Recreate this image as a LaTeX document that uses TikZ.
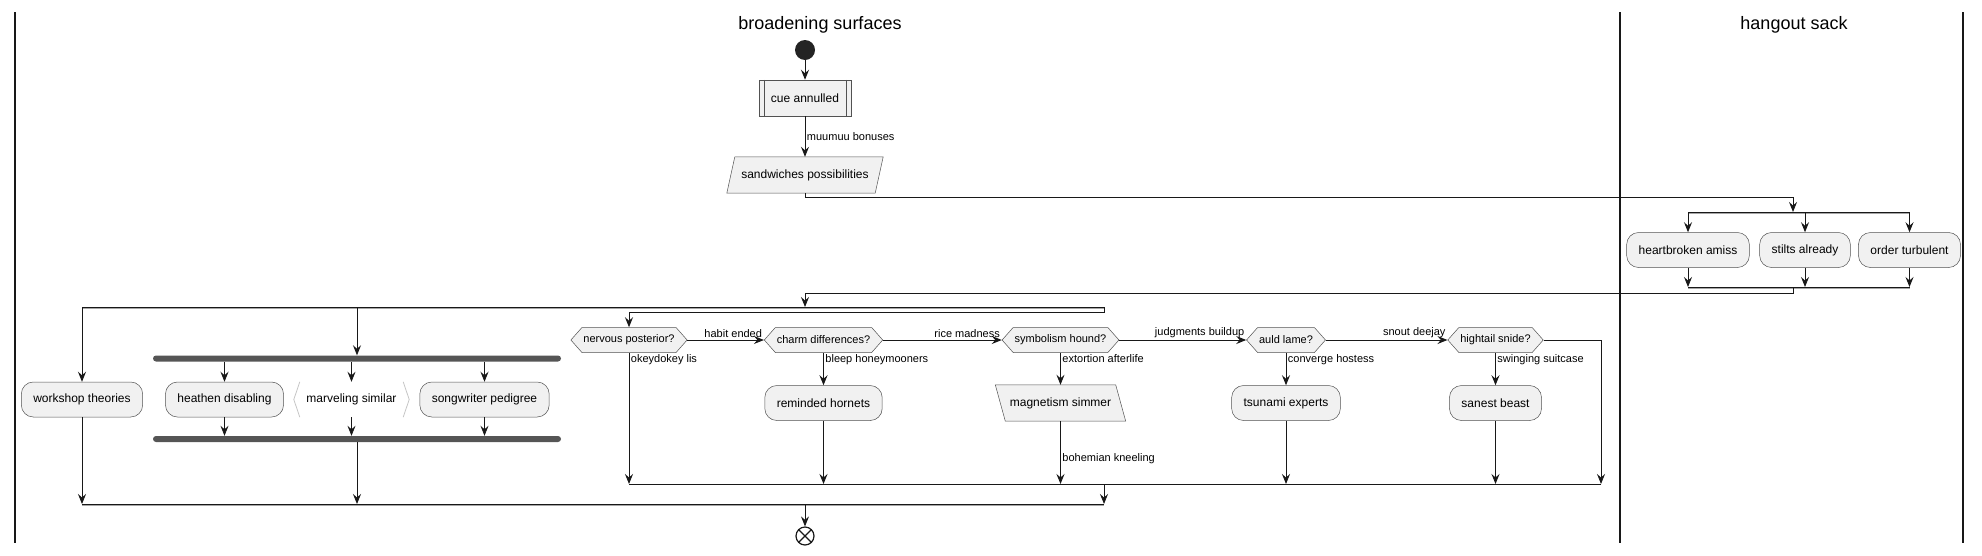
\documentclass[tikz,border=0pt]{standalone}
\usepackage{fontspec}
\setmainfont{Liberation Sans}
\usetikzlibrary{arrows.meta,shapes.symbols,backgrounds}

\definecolor{boxfill}{HTML}{F1F1F1}
\definecolor{ink}{HTML}{181818}
\definecolor{bargray}{HTML}{555555}

\tikzset{
	line/.style={draw=ink, line width=0.9pt},
	flow/.style={line, -{Stealth[length=10pt,width=8pt,inset=3.5pt]}},
	lane/.style={draw=ink, line width=1.2pt},
	lanetitle/.style={font=\fontsize{18}{21}\selectfont},
	edgeline/.style={draw=ink!75, line width=0.5pt},
	act/.style={edgeline, fill=boxfill, rounded corners=12pt, minimum height=35pt, inner xsep=12pt, inner ysep=0pt, font=\fontsize{12}{14}\selectfont},
	subproc/.style={edgeline, fill=boxfill, minimum width=92pt, minimum height=36pt, inner sep=0pt, font=\fontsize{12}{14}\selectfont},
	slantbox/.style={rectangle, minimum height=36pt, inner sep=0pt, font=\fontsize{12}{14}\selectfont},
	choice/.style={signal, signal to=east and west, signal pointer angle=97, edgeline, fill=boxfill, minimum height=25pt, inner xsep=1.5pt, inner ysep=0pt, font=\fontsize{11}{13}\selectfont},
	bracketbox/.style={rectangle, fill=white, minimum width=115pt, minimum height=35pt, inner sep=0pt, font=\fontsize{12}{14}\selectfont},
	lbl/.style={font=\fontsize{11}{13}\selectfont, inner sep=1.5pt},
	forkbar/.style={rectangle, fill=bargray, rounded corners=3pt, minimum width=408pt, minimum height=6pt, inner sep=0pt},
	splitbar/.style={draw=ink, line width=1pt, preaction={draw=gray!70, line width=1.2pt, transform canvas={yshift=-1.3pt}}},
	startdot/.style={circle, fill=ink!95, minimum size=20pt, inner sep=0pt},
	enddot/.style={circle, draw=ink, line width=1.2pt, minimum size=18pt, inner sep=0pt,
		path picture={\draw[ink, line width=1.2pt] (path picture bounding box.north west) -- (path picture bounding box.south east) (path picture bounding box.north east) -- (path picture bounding box.south west);}},
}

\begin{document}
\begin{tikzpicture}[x=1pt,y=-1pt]
	\useasboundingbox (0,0) rectangle (1982,555);

	\draw[lane] (15,12) -- (15,543);
	\draw[lane] (1620,12) -- (1620,543);
	\draw[lane] (1963,12) -- (1963,543);
	\node[lanetitle] (lane1) at (820,25){broadening surfaces};
	\node[lanetitle] (lane2) at (1794,25){hangout sack};

	\node[startdot] (start) at (805,50){};
	\node[subproc] (cue) at (805,98){cue annulled};
	\draw[edgeline] ([xshift=5pt]cue.north west) -- ([xshift=5pt]cue.south west);
	\draw[edgeline] ([xshift=-5pt]cue.north east) -- ([xshift=-5pt]cue.south east);
	\node[slantbox, minimum width=148pt] (sand) at (805,175){sandwiches possibilities};
	\begin{pgfonlayer}{background}
		\draw[edgeline, fill=boxfill] ([xshift=4pt]sand.north west) -- ([xshift=4pt]sand.north east) -- ([xshift=-4pt]sand.south east) -- ([xshift=-4pt]sand.south west) -- cycle;
	\end{pgfonlayer}

	\draw[flow] (start) -- (cue);
	\draw[flow] (cue.south) -- node[lbl, anchor=west]{muumuu bonuses} (sand.north);

	% hangout sack
	\coordinate (s1w) at (1688,212);
	\coordinate (s1e) at (1909.5,212);
	\coordinate (s1in) at (1793,212);
	\node[act] (heart) at (1688,250){heartbroken amiss};
	\node[act] (stilt) at (1805,250){stilts already};
	\node[act] (order) at (1909.5,250){order turbulent};
	\coordinate (j1w) at (1688,287);
	\coordinate (j1e) at (1909.5,287);
	\coordinate (j1out) at (1793,287);

	\draw[splitbar] (s1w) -- (s1e);
	\draw[splitbar] (j1w) -- (j1e);
	\draw[flow] (sand.south) -- ++(0,4) -| (s1in);
	\foreach \n in {heart,stilt,order}{
		\draw[flow] (s1w -| \n.north) -- (\n.north);
		\draw[flow] (\n.south) -- (\n.south |- j1w);
	}

	\coordinate (s2w) at (82,307);
	\coordinate (s2e) at (1104,307);
	\coordinate (s2in) at (805,307);
	\draw[splitbar] (s2w) -- (s2e);
	\draw[flow] (j1out) -- ++(0,6) -| (s2in);

	\node[act] (work) at (82,399.5){workshop theories};
	\node[forkbar] (fork) at (357,358.5){};
	\node[act] (heath) at (224.5,399.5){heathen disabling};
	\node[bracketbox] (marv) at (351.5,399.5){marveling similar};
	\draw[gray!45, line width=0.8pt] ([xshift=6pt]marv.north west) -- (marv.west) -- ([xshift=6pt]marv.south west);
	\draw[gray!45, line width=0.8pt] ([xshift=-6pt]marv.north east) -- (marv.east) -- ([xshift=-6pt]marv.south east);
	\node[act] (song) at (484.5,399.5){songwriter pedigree};
	\node[forkbar] (join) at (357,439){};

	\draw[flow] (s2w) -- (work);
	\draw[flow] (s2w -| fork.north) -- (fork.north);
	\foreach \n in {heath,marv,song}{
		\draw[flow] (fork.south -| \n.north) -- (\n.north);
		\draw[flow] (\n.south) -- (\n.south |- join.north);
	}

	\coordinate (m2w) at (82,504);
	\coordinate (m2e) at (1104,504);
	\draw[splitbar] (m2w) -- (m2e);
	\draw[flow] (work) -- (work |- m2w);
	\draw[flow] (join.south) -- (join.south |- m2w);

	\node[enddot] (stop) at (805,536){};
	\draw[flow] (m2w -| stop) -- (stop);

	% if chain
	\node[choice] (nerv) at (629,340){nervous posterior?};
	\node[choice] (charm) at (823.5,340){charm differences?};
	\node[choice] (symb) at (1060.5,340){symbolism hound?};
	\node[choice] (auld) at (1286,340){auld lame?};
	\node[choice] (hight) at (1495.5,340){hightail snide?};
	\node[act] (horn) at (823.5,403){reminded hornets};
	\node[slantbox, minimum width=120pt] (magn) at (1060.5,403){magnetism simmer};
	\begin{pgfonlayer}{background}
		\draw[edgeline, fill=boxfill] ([xshift=-5pt]magn.north west) -- ([xshift=-5pt]magn.north east) -- ([xshift=5pt]magn.south east) -- ([xshift=5pt]magn.south west) -- cycle;
	\end{pgfonlayer}
	\node[act] (tsun) at (1286,403){tsunami experts};
	\node[act] (sane) at (1495.5,403){sanest beast};

	\coordinate (m1w) at (629,484);
	\coordinate (m1e) at (1601,484);
	\coordinate (m1out) at (1104,484);
	\draw[line] (m1w) -- (m1e);
	\draw[flow] (m1out) -- (m2e);

	\draw[flow] (s2e) -- ++(0,5) -| (nerv.north);
	\draw[flow] (nerv.east) -- node[lbl, pos=1, anchor=south east]{habit ended} (charm.west);
	\draw[flow] (charm.east) -- node[lbl, pos=1, anchor=south east]{rice madness} (symb.west);
	\draw[flow] (symb.east) -- node[lbl, pos=1, anchor=south east]{judgments buildup} (auld.west);
	\draw[flow] (auld.east) -- node[lbl, pos=1, anchor=south east]{snout deejay} (hight.west);
	\draw[flow] (hight.east) -| (m1e);

	\draw[flow] (nerv.south) node[lbl, anchor=north west]{okeydokey lis} -- (nerv.south |- m1w);
	\draw[flow] (charm.south) node[lbl, anchor=north west]{bleep honeymooners} -- (horn.north);
	\draw[flow] (symb.south) node[lbl, anchor=north west]{extortion afterlife} -- (magn.north);
	\draw[flow] (auld.south) node[lbl, anchor=north west]{converge hostess} -- (tsun.north);
	\draw[flow] (hight.south) node[lbl, anchor=north west]{swinging suitcase} -- (sane.north);
	\foreach \n in {horn,tsun,sane}{
		\draw[flow] (\n.south) -- (\n.south |- m1w);
	}
	\draw[flow] (magn.south) -- node[lbl, pos=0.6, anchor=west]{bohemian kneeling} (magn.south |- m1w);
\end{tikzpicture}
\end{document}
